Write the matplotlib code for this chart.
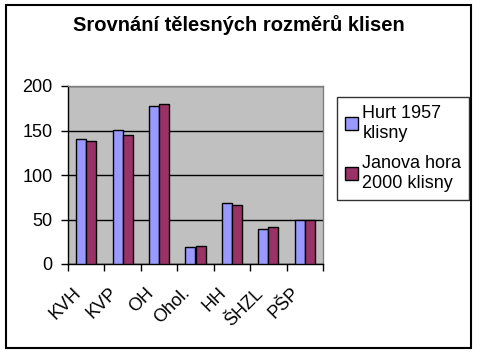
import numpy as np
import matplotlib
matplotlib.use('Agg')
import matplotlib.pyplot as plt
from matplotlib.patches import Rectangle

# data
categories = ['KVH', 'KVP', 'OH', 'Ohol.', 'HH', 'ŠHZL', 'PŠP']
hurt_1957 = [141, 151, 178, 19, 69, 39, 49]
janova_hora_2000 = [138, 145, 180, 20, 66, 42, 50]
series_names = ['Hurt 1957\nklisny', 'Janova hora\n2000 klisny']
yticks = [0, 50, 100, 150, 200]

plt.rcParams['font.family'] = ['Liberation Sans', 'DejaVu Sans']

fig = plt.figure(figsize=(4.8, 3.55), dpi=100)
fig.patch.set_facecolor('white')

# chart area border
fig.patches.append(Rectangle((6 / 480, 1 - 348 / 355), 465 / 480, 343 / 355,
                             transform=fig.transFigure, fill=False,
                             edgecolor='black', linewidth=1.5))

ax = fig.add_axes([68 / 480, 1 - 264 / 355, 255 / 480, 178 / 355])
ax.set_facecolor('#C0C0C0')

x = np.arange(len(categories))
w = 0.275
ax.bar(x - w / 2, hurt_1957, w, color='#9999FF', edgecolor='black',
       linewidth=1, label=series_names[0], zorder=3)
ax.bar(x + w / 2, janova_hora_2000, w, color='#993366', edgecolor='black',
       linewidth=1, label=series_names[1], zorder=3)

ax.set_xlim(-0.5, len(categories) - 0.5)
ax.set_ylim(0, 200)
ax.set_yticks(yticks)
ax.set_yticklabels([str(t) for t in yticks], fontsize=13)
ax.yaxis.grid(True, color='black', linewidth=1, zorder=1)

# ticks between categories, labels placed by hand below the centers
ax.set_xticks(np.arange(len(categories) + 1) - 0.5)
ax.set_xticklabels([])
for i, name in enumerate(categories):
    ax.annotate(name, xy=(i, 0), xycoords=('data', 'axes fraction'),
                xytext=(-10, -15), textcoords='offset points',
                rotation=45, ha='right', va='top', rotation_mode='anchor',
                fontsize=13, annotation_clip=False)
ax.tick_params(axis='x', which='major', length=5, width=1, direction='out')
ax.tick_params(axis='y', length=5, width=1, direction='out', pad=6)

ax.spines['left'].set_color('black')
ax.spines['bottom'].set_color('black')
ax.spines['top'].set_color('#808080')
ax.spines['right'].set_color('#808080')
for s in ax.spines.values():
    s.set_linewidth(1)

fig.text(239 / 480, 1 - 25 / 355, 'Srovnání tělesných rozměrů klisen',
         ha='center', va='center', fontsize=14.5, fontweight='bold')

leg = fig.legend(loc='upper left', bbox_to_anchor=(337 / 480, 1 - 97 / 355),
                 fontsize=13, frameon=True, fancybox=False, handlelength=0.7,
                 handleheight=0.7, handletextpad=0.25, borderpad=0.45,
                 labelspacing=0.75, borderaxespad=0)
leg.get_frame().set_edgecolor('black')
leg.get_frame().set_linewidth(1)

fig.savefig('out.png', dpi=100)
